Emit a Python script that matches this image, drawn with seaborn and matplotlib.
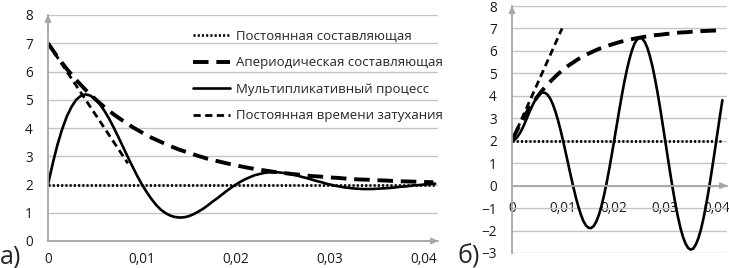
import matplotlib
matplotlib.use("Agg")
import matplotlib.pyplot as plt
import seaborn as sns

# time grid, s (aperiodic components)
t = [0.000, 0.001, 0.002, 0.003, 0.004, 0.005, 0.006, 0.007, 0.008, 0.009,
     0.010, 0.011, 0.012, 0.013, 0.014, 0.015, 0.016, 0.017, 0.018, 0.019,
     0.020, 0.021, 0.022, 0.023, 0.024, 0.025, 0.026, 0.027, 0.028, 0.029,
     0.030, 0.031, 0.032, 0.033, 0.034, 0.035, 0.036, 0.037, 0.038, 0.039,
     0.040, 0.041]

# finer time grid, s (oscillating processes)
t_fine = [0.0000, 0.0005, 0.0010, 0.0015, 0.0020, 0.0025, 0.0030, 0.0035,
          0.0040, 0.0045, 0.0050, 0.0055, 0.0060, 0.0065, 0.0070, 0.0075,
          0.0080, 0.0085, 0.0090, 0.0095, 0.0100, 0.0105, 0.0110, 0.0115,
          0.0120, 0.0125, 0.0130, 0.0135, 0.0140, 0.0145, 0.0150, 0.0155,
          0.0160, 0.0165, 0.0170, 0.0175, 0.0180, 0.0185, 0.0190, 0.0195,
          0.0200, 0.0205, 0.0210, 0.0215, 0.0220, 0.0225, 0.0230, 0.0235,
          0.0240, 0.0245, 0.0250, 0.0255, 0.0260, 0.0265, 0.0270, 0.0275,
          0.0280, 0.0285, 0.0290, 0.0295, 0.0300, 0.0305, 0.0310, 0.0315,
          0.0320, 0.0325, 0.0330, 0.0335, 0.0340, 0.0345, 0.0350, 0.0355,
          0.0360, 0.0365, 0.0370, 0.0375, 0.0380, 0.0385, 0.0390, 0.0395,
          0.0400, 0.0405, 0.0410, 0.0412]

# panel a)
a_aper = [7.00, 6.52, 6.09, 5.70, 5.35, 5.03, 4.74, 4.48, 4.25, 4.03,
          3.84, 3.66, 3.51, 3.36, 3.23, 3.12, 3.01, 2.91, 2.83, 2.75,
          2.68, 2.61, 2.55, 2.50, 2.45, 2.41, 2.37, 2.34, 2.30, 2.28,
          2.25, 2.23, 2.20, 2.18, 2.17, 2.15, 2.14, 2.12, 2.11, 2.10,
          2.09, 2.08]
a_mult = [2.00, 2.74, 3.40, 3.95, 4.41, 4.75, 5.00, 5.14, 5.19, 5.15,
          5.03, 4.85, 4.61, 4.33, 4.01, 3.67, 3.32, 2.97, 2.63, 2.30,
          2.00, 1.73, 1.49, 1.28, 1.11, 0.99, 0.90, 0.85, 0.83, 0.84,
          0.88, 0.95, 1.04, 1.14, 1.26, 1.39, 1.51, 1.64, 1.77, 1.89,
          2.00, 2.10, 2.19, 2.26, 2.33, 2.37, 2.41, 2.43, 2.43, 2.43,
          2.41, 2.39, 2.35, 2.32, 2.27, 2.23, 2.18, 2.13, 2.09, 2.04,
          2.00, 1.96, 1.93, 1.90, 1.88, 1.86, 1.85, 1.84, 1.84, 1.84,
          1.85, 1.86, 1.87, 1.88, 1.90, 1.92, 1.93, 1.95, 1.97, 1.98,
          2.00, 2.01, 2.03, 2.03]
a_const_t = [0.0, 0.0412]
a_const = [2.0, 2.0]
a_tau_t = [0.0, 0.0085]
a_tau = [7.0, 2.75]

# panel б)
b_aper = [2.00, 2.48, 2.91, 3.30, 3.65, 3.97, 4.26, 4.52, 4.75, 4.97,
          5.16, 5.34, 5.49, 5.64, 5.77, 5.88, 5.99, 6.09, 6.17, 6.25,
          6.32, 6.39, 6.45, 6.50, 6.55, 6.59, 6.63, 6.66, 6.70, 6.72,
          6.75, 6.77, 6.80, 6.82, 6.83, 6.85, 6.86, 6.88, 6.89, 6.90,
          6.91, 6.92]
b_mult = [2.00, 2.04, 2.15, 2.32, 2.53, 2.78, 3.05, 3.32, 3.57, 3.79,
          3.97, 4.09, 4.15, 4.13, 4.04, 3.87, 3.62, 3.30, 2.92, 2.48,
          2.00, 1.49, 0.97, 0.45, -0.05, -0.52, -0.94, -1.30, -1.59, -1.78,
          -1.88, -1.89, -1.80, -1.60, -1.31, -0.92, -0.45, 0.09, 0.69, 1.33,
          2.00, 2.68, 3.36, 4.01, 4.62, 5.16, 5.64, 6.03, 6.33, 6.51,
          6.59, 6.55, 6.40, 6.14, 5.77, 5.31, 4.76, 4.14, 3.46, 2.74,
          2.00, 1.26, 0.53, -0.17, -0.82, -1.40, -1.90, -2.30, -2.59, -2.78,
          -2.85, -2.80, -2.62, -2.34, -1.95, -1.45, -0.87, -0.22, 0.49, 1.23,
          2.00, 2.77, 3.52, 3.81]
b_const_t = [0.0, 0.0412]
b_const = [2.0, 2.0]
b_tau_t = [0.0, 0.0098]
b_tau = [2.0, 7.0]

x_ticks = [0, 0.01, 0.02, 0.03, 0.04]
x_labels = ["0", "0,01", "0,02", "0,03", "0,04"]

labels = ["Постоянная составляющая", "Апериодическая составляющая",
          "Мультипликативный процесс", "Постоянная времени затухания"]

sns.set_theme(style="white")
plt.rcParams["font.family"] = ["Open Sans", "DejaVu Sans"]

AXIS = "#a6a6a6"
GRID = "#c4c4c4"
TXT = "#1a1a1a"

DOT = (0, (0.8, 0.8))
LONG = (0, (4, 2))
SHORT = (0, (2.6, 1.6))


def draw(ax, const_t, const, aper, mult, tau_t, tau, with_legend):
    lab = labels if with_legend else [None] * 4
    sns.lineplot(x=const_t, y=const, ax=ax, color="black", lw=1.9,
                 linestyle=DOT, label=lab[0], legend=False)
    sns.lineplot(x=t, y=aper, ax=ax, color="black", lw=2.8,
                 linestyle=LONG, label=lab[1], legend=False)
    sns.lineplot(x=t_fine, y=mult, ax=ax, color="black", lw=1.9,
                 label=lab[2], legend=False)
    sns.lineplot(x=tau_t, y=tau, ax=ax, color="black", lw=2.0,
                 linestyle=SHORT, label=lab[3], legend=False)


def style_axes(ax, xmax, ymin, xpad):
    ax.set_xlim(0, xmax)
    ax.set_ylim(ymin, 8)
    ax.set_yticks(range(ymin, 9))
    ax.set_xticks(x_ticks)
    ax.set_xticklabels(x_labels)
    ax.yaxis.grid(True, color=GRID, lw=1.0)
    ax.xaxis.grid(False)
    ax.set_axisbelow(True)
    for s in ["top", "right"]:
        ax.spines[s].set_visible(False)
    for s in ["left", "bottom"]:
        ax.spines[s].set_color(AXIS)
        ax.spines[s].set_linewidth(1.3)
    ax.spines["bottom"].set_position(("data", 0))
    ax.tick_params(axis="y", length=0, pad=11, labelsize=9.8, labelcolor=TXT)
    ax.tick_params(axis="x", length=4, direction="in", color=AXIS, pad=xpad,
                   labelsize=9.8, labelcolor=TXT)
    ax.set_xlabel("")
    ax.set_ylabel("")
    # arrow heads on the axes
    ax.annotate("", xy=(0, 8), xytext=(0, 7.6), xycoords="data",
                arrowprops=dict(arrowstyle="-|>", color=AXIS, lw=1.3,
                                mutation_scale=9, shrinkA=0, shrinkB=0))
    ax.annotate("", xy=(xmax, 0), xytext=(xmax - 0.0015, 0), xycoords="data",
                arrowprops=dict(arrowstyle="-|>", color=AXIS, lw=1.3,
                                mutation_scale=9, shrinkA=0, shrinkB=0))


fig = plt.figure(figsize=(7.29, 2.68), dpi=100)
ax_a = fig.add_axes([48 / 729, 27 / 268, 390 / 729, 226 / 268])
ax_b = fig.add_axes([512 / 729, 15 / 268, 215 / 729, 247 / 268])

draw(ax_a, a_const_t, a_const, a_aper, a_mult, a_tau_t, a_tau, True)
style_axes(ax_a, 0.0415, 0, 8)

draw(ax_b, b_const_t, b_const, b_aper, b_mult, b_tau_t, b_tau, False)
style_axes(ax_b, 0.0421, -3, 11)

ax_a.legend(loc="upper left", bbox_to_anchor=((193 - 48) / 390, (241 - 30) / 226),
            frameon=False, fontsize=9.5, handlelength=2.8, handletextpad=0.45,
            labelspacing=1.02, borderaxespad=0, borderpad=0)

fig.text(0.0, 11 / 268, "а)", fontsize=18, va="center", ha="left")
fig.text(458 / 729, 11 / 268, "б)", fontsize=18, va="center", ha="left")

fig.savefig("out.png", dpi=100)
